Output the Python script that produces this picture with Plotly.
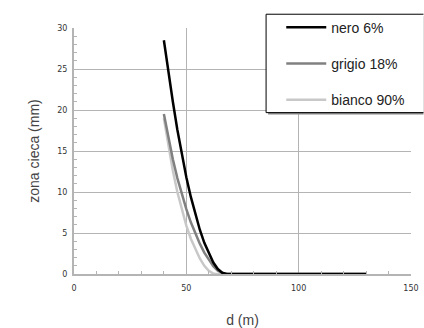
import plotly.graph_objects as go

d_nero = [40, 42, 44, 46, 48, 50, 52, 54, 56, 58, 60, 62, 64, 66, 68, 130]
z_nero = [28.5, 24.6, 21.0, 17.6, 14.6, 11.8, 9.4, 7.3, 5.4, 3.8, 2.5, 1.4, 0.6, 0.15, 0, 0]

d_grigio = [40, 42, 44, 46, 48, 50, 52, 54, 56, 58, 60, 62, 64, 66, 67, 130]
z_grigio = [19.5, 16.6, 14.0, 11.7, 9.7, 7.9, 6.3, 4.9, 3.7, 2.6, 1.7, 0.95, 0.4, 0.08, 0, 0]

d_bianco = [40, 42, 44, 46, 48, 50, 52, 54, 56, 58, 60, 62, 63, 130]
z_bianco = [19.0, 15.6, 12.6, 10.0, 7.8, 5.9, 4.3, 3.0, 1.9, 1.0, 0.4, 0.05, 0, 0]

names = ["nero 6%", "grigio 18%", "bianco 90%"]
colors = ["#000000", "#808080", "#c8c8c8"]

fig = go.Figure()
series = [(d_bianco, z_bianco, 2), (d_grigio, z_grigio, 1), (d_nero, z_nero, 0)]
for xs, ys, i in series:
    fig.add_trace(go.Scatter(
        x=xs, y=ys, mode="lines", name=names[i],
        line=dict(color=colors[i], width=2.5),
        legendrank=i + 1, legendgroup=str(i),
    ))

# legend frame with shadow (runs to the right edge of the figure as in the reference)
lx0, lx1, ly0, ly1 = 0.57, 1.037, 0.656, 1.056
fig.add_shape(type="rect", xref="paper", yref="paper", x0=lx0 + 0.006, x1=lx1, y0=ly0 - 0.008, y1=ly1 - 0.008,
              line=dict(width=0), fillcolor="#888", layer="above")
fig.add_shape(type="rect", xref="paper", yref="paper", x0=lx0, x1=lx1, y0=ly0, y1=ly1,
              line=dict(width=0), fillcolor="white", layer="above")
for (ax0, ay0, ax1, ay1) in [(lx0, ly1, lx1, ly1), (lx0, ly0, lx1, ly0), (lx0, ly0, lx0, ly1)]:
    fig.add_shape(type="line", xref="paper", yref="paper", x0=ax0, y0=ay0, x1=ax1, y1=ay1,
                  line=dict(width=1, color="#000"), layer="above")

fig.update_layout(
    width=424, height=328,
    margin=dict(l=74, r=13, t=24, b=54),
    paper_bgcolor="white", plot_bgcolor="white",
    font=dict(family="Liberation Sans, Arial, sans-serif", color="#444"),
    showlegend=True,
    legend=dict(
        x=0.615, y=1.066, xanchor="left", yanchor="top",
        bgcolor="rgba(0,0,0,0)", borderwidth=0,
        font=dict(family="Liberation Sans, Arial, sans-serif", size=14, color="#222"),
        tracegroupgap=15, traceorder="grouped", itemwidth=40,
    ),
    xaxis=dict(
        range=[0, 150], dtick=50, showgrid=True, gridcolor="#b4b4b4", gridwidth=1,
        showline=True, linecolor="#b4b4b4", linewidth=2, zeroline=False, automargin=False,
        ticks="", tickfont=dict(family="DejaVu Sans", size=8, color="#333"), ticklabelstandoff=5,
        ticklabeloverflow="allow",
        minor=dict(dtick=10, ticks="inside", ticklen=3, tickcolor="#b4b4b4", showgrid=False),
        title=dict(text="d (m)", font=dict(size=14, color="#444"), standoff=24),
    ),
    yaxis=dict(
        range=[0, 30], dtick=5, showgrid=True, gridcolor="#b4b4b4", gridwidth=1,
        showline=True, linecolor="#b4b4b4", linewidth=2, zeroline=False, automargin=False,
        ticks="", tickfont=dict(family="DejaVu Sans", size=8, color="#333"), ticklabelstandoff=3,
        minor=dict(dtick=1, ticks="inside", ticklen=3, tickcolor="#b4b4b4", showgrid=False),
        title=dict(text="zona cieca (mm)", font=dict(size=14, color="#444"), standoff=14),
    ),
)

fig.write_html("out.html")
